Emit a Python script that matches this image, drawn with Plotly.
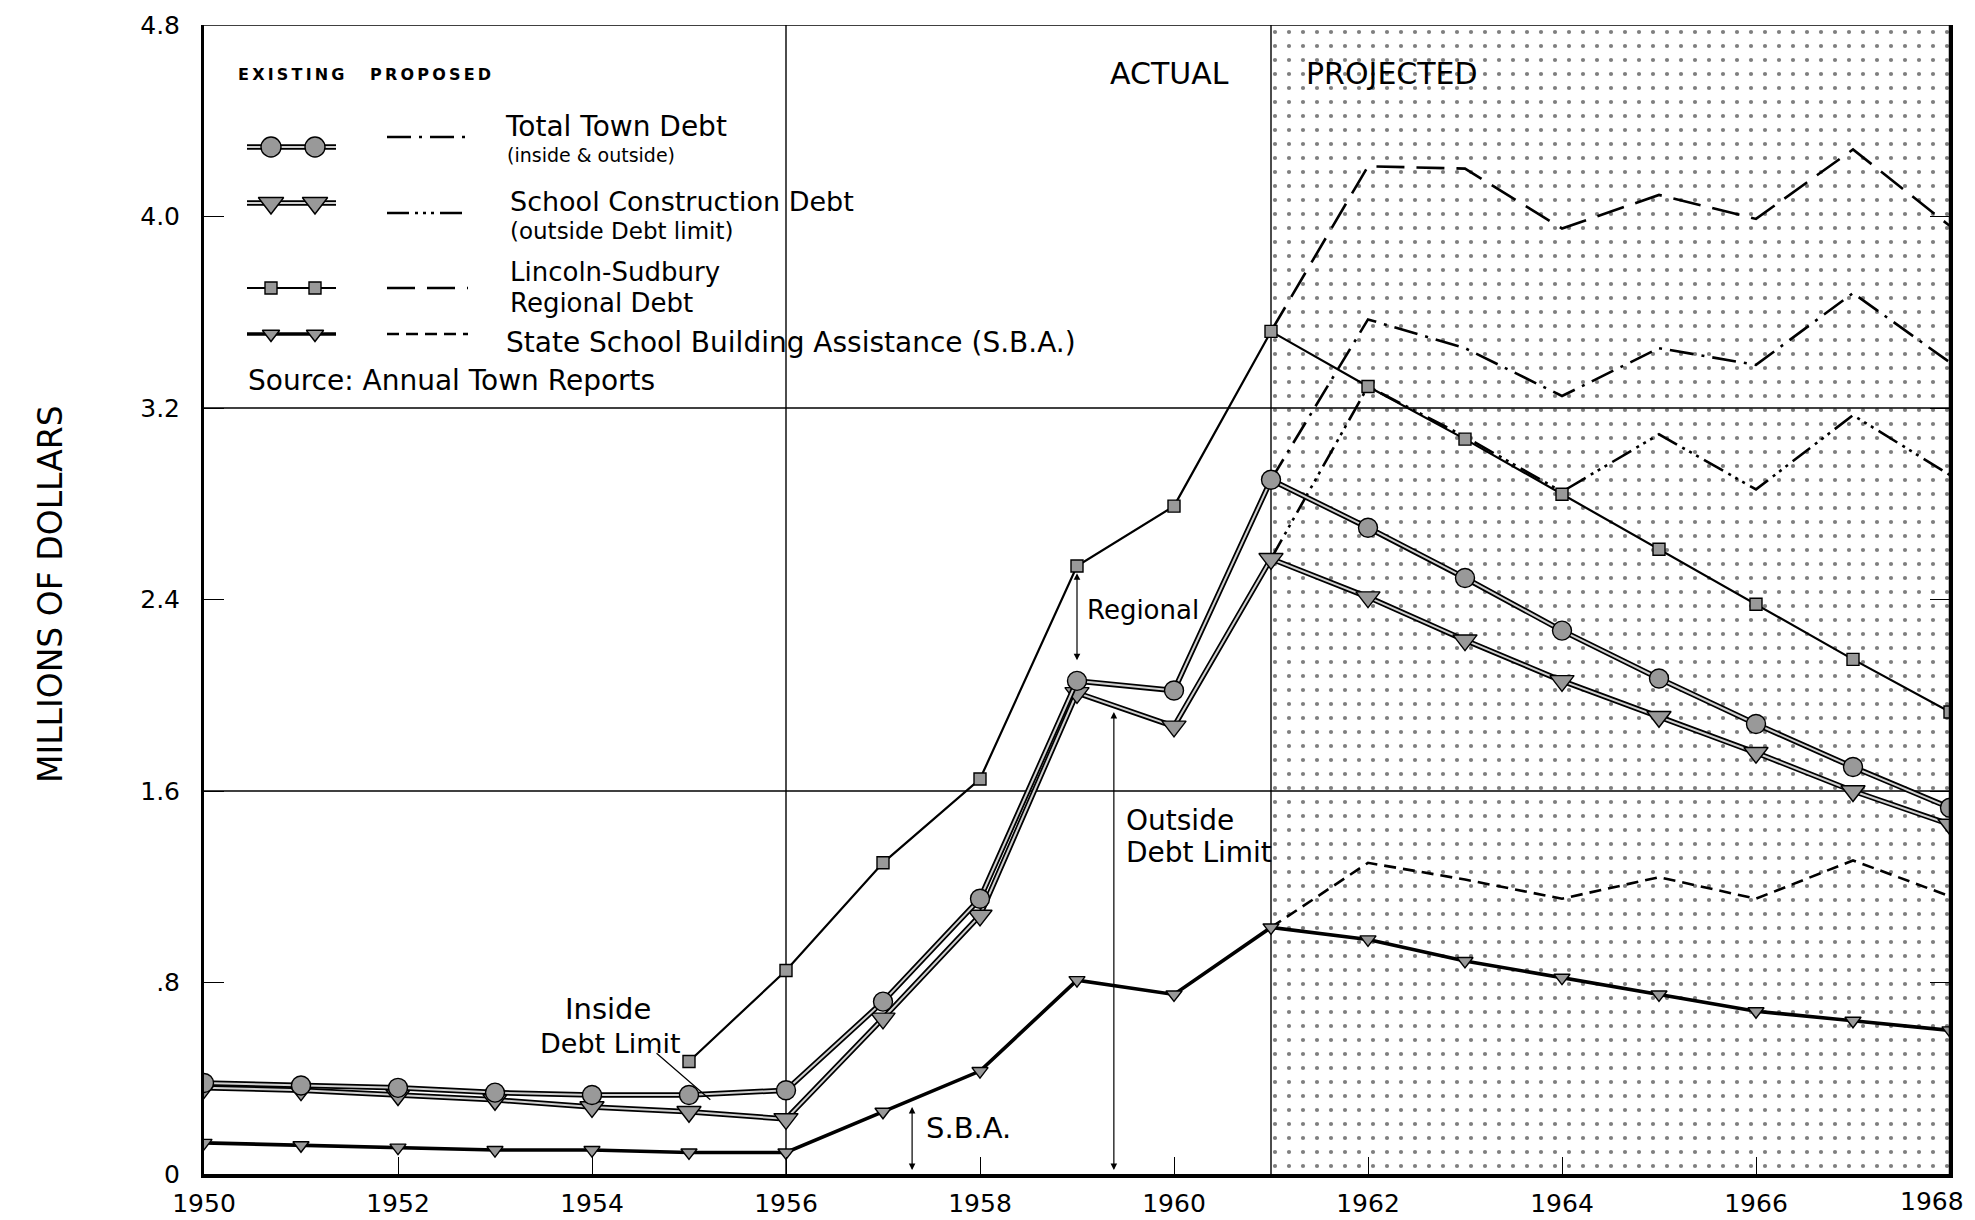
import plotly.graph_objects as go

# ---------------- data (millions of dollars) ----------------
years = list(range(1950, 1969))
regional_years = list(range(1955, 1969))
projected_years = list(range(1961, 1969))

# existing debt, actual to 1961 then scheduled retirement
total_town_debt = [0.38, 0.37, 0.36, 0.34, 0.33, 0.33, 0.35, 0.72, 1.15, 2.06, 2.02,
                   2.90, 2.70, 2.49, 2.27, 2.07, 1.88, 1.70, 1.53]
school_construction_debt = [0.36, 0.35, 0.33, 0.31, 0.28, 0.26, 0.23, 0.65, 1.08, 2.01, 1.87,
                            2.57, 2.41, 2.23, 2.06, 1.91, 1.76, 1.60, 1.46]
regional_debt_line = [0.47, 0.85, 1.30, 1.65, 2.54, 2.79,
                      3.52, 3.29, 3.07, 2.84, 2.61, 2.38, 2.15, 1.93]
sba_existing = [0.13, 0.12, 0.11, 0.10, 0.10, 0.09, 0.09, 0.26, 0.43, 0.81, 0.75,
                1.03, 0.98, 0.89, 0.82, 0.75, 0.68, 0.64, 0.60]

# proposed debt, 1961-1968
total_proposed = [2.90, 3.57, 3.45, 3.25, 3.45, 3.38, 3.68, 3.39]
school_proposed = [2.57, 3.29, 3.08, 2.85, 3.09, 2.86, 3.17, 2.92]
regional_proposed = [3.52, 4.21, 4.20, 3.95, 4.09, 3.99, 4.28, 3.96]
sba_proposed = [1.03, 1.30, 1.23, 1.15, 1.24, 1.15, 1.31, 1.16]

y_ticks = [0, 0.8, 1.6, 2.4, 3.2, 4.0, 4.8]
y_tick_labels = ["0", ".8", "1.6", "2.4", "3.2", "4.0", "4.8"]
x_ticks = list(range(1950, 1969, 2))
x_tick_labels = [str(v) for v in x_ticks]

FONT = "DejaVu Sans"
INK = "black"
STIPPLE = "#999999"

DASH_TOTAL = "24px,8px,3px,8px"
DASH_SCHOOL = "22px,6px,3px,5px,3px,5px,3px,6px"
DASH_REGIONAL = "28px,12px"
DASH_SBA = "12px,7px"

# plot-area pixel box, used to place the hand-lettered notes
W, H = 1975, 1220
PX_LEFT, PX_RIGHT, PX_TOP, PX_BOTTOM = 204, 1950, 25, 1174

fig = go.Figure()

# dotted field over the projected years
fig.add_trace(go.Bar(
    x=[1964.5], y=[4.8], base=[0], width=[7],
    marker=dict(color="rgba(255,255,255,0)", line=dict(width=0),
                pattern=dict(shape=".", size=14, solidity=0.07,
                             fgcolor=INK, bgcolor="rgba(255,255,255,0)")),
    hoverinfo="skip", showlegend=False))


def double_line(x, y, xa="x", ya="y", width=5.5):
    """Outlined 'existing' line: dark stroke with a light core."""
    fig.add_trace(go.Scatter(x=x, y=y, mode="lines", xaxis=xa, yaxis=ya,
                             line=dict(color=INK, width=width),
                             hoverinfo="skip", showlegend=False))
    fig.add_trace(go.Scatter(x=x, y=y, mode="lines", xaxis=xa, yaxis=ya,
                             line=dict(color="#d0d0d0", width=width - 3.5),
                             hoverinfo="skip", showlegend=False))


def markers(x, y, symbol, size, xa="x", ya="y"):
    fig.add_trace(go.Scatter(x=x, y=y, mode="markers", xaxis=xa, yaxis=ya,
                             marker=dict(symbol=symbol, size=size, color=STIPPLE,
                                         line=dict(color=INK, width=1.4)),
                             hoverinfo="skip", showlegend=False))


def dashed(x, y, dash, width=2.6, xa="x", ya="y"):
    fig.add_trace(go.Scatter(x=x, y=y, mode="lines", xaxis=xa, yaxis=ya,
                             line=dict(color=INK, width=width, dash=dash),
                             hoverinfo="skip", showlegend=False))


# proposed series
dashed(projected_years, regional_proposed, DASH_REGIONAL)
dashed(projected_years, total_proposed, DASH_TOTAL)
dashed(projected_years, school_proposed, DASH_SCHOOL)
dashed(projected_years, sba_proposed, DASH_SBA)

# existing series
fig.add_trace(go.Scatter(x=regional_years, y=regional_debt_line, mode="lines",
                         line=dict(color=INK, width=2.2), hoverinfo="skip", showlegend=False))
markers(regional_years, regional_debt_line, "square", 12)

fig.add_trace(go.Scatter(x=years, y=sba_existing, mode="lines",
                         line=dict(color=INK, width=3.6), hoverinfo="skip", showlegend=False))
markers(years, sba_existing, "triangle-down", 14)

double_line(years, school_construction_debt)
markers(years, school_construction_debt, "triangle-down", 21)

double_line(years, total_town_debt)
markers(years, total_town_debt, "circle", 19)

# ---------------- legend block (pixel-space overlay) ----------------
legend_rows = [
    # (line y, proposed y, existing symbol, size, style, proposed dash)
    (147, 137, "circle", 20, "double", DASH_TOTAL),
    (203, 213, "triangle-down", 22, "double", DASH_SCHOOL),
    (288, 288, "square", 12, "thin", DASH_REGIONAL),
    (334, 334, "triangle-down", 15, "thick", DASH_SBA),
]
for ly, py, sym, sz, style, dash in legend_rows:
    xs = [247, 336]
    if style == "double":
        double_line(xs, [ly, ly], xa="x2", ya="y2")
    else:
        fig.add_trace(go.Scatter(x=xs, y=[ly, ly], mode="lines", xaxis="x2", yaxis="y2",
                                 line=dict(color=INK, width=2.2 if style == "thin" else 3.6),
                                 hoverinfo="skip", showlegend=False))
    markers([271, 315], [ly, ly], sym, sz, xa="x2", ya="y2")
    dashed([387, 468], [py, py], dash, xa="x2", ya="y2")

annotations = []


def label(x, y, text, size=28, xanchor="left"):
    annotations.append(dict(x=x, y=y, xref="x2", yref="y2", text=text, showarrow=False,
                            xanchor=xanchor, yanchor="middle",
                            font=dict(family=FONT, size=size, color=INK)))


THIN = "\u2009"
label(291, 74, "<b>" + THIN.join("EXISTING") + "</b>", size=16, xanchor="center")
label(430, 74, "<b>" + THIN.join("PROPOSED") + "</b>", size=16, xanchor="center")
label(503, 126, "Total Town Debt", size=28)
label(505, 155, "(inside & outside)", size=19)
label(508, 201, "School Construction Debt", size=27)
label(508, 231, "(outside Debt limit)", size=23)
label(508, 272, "Lincoln-Sudbury", size=26)
label(508, 303, "Regional Debt", size=26)
label(504, 342, "State School Building Assistance (S.B.A.)", size=28)
label(246, 380, "Source: Annual Town Reports", size=28)

label(1169, 73, "ACTUAL", size=30, xanchor="center")
label(1392, 73, "PROJECTED", size=30, xanchor="center")

label(1085, 610, "Regional", size=26)
label(1124, 820, "Outside", size=28)
label(1124, 852, "Debt Limit", size=28)
label(608, 1009, "Inside", size=29, xanchor="center")
label(610, 1043, "Debt Limit", size=27, xanchor="center")
label(924, 1128, "S.B.A.", size=29)

# y-axis title, placed in the left margin
annotations.append(dict(x=(50 - PX_LEFT) / (PX_RIGHT - PX_LEFT), y=(PX_BOTTOM - 594) / (PX_BOTTOM - PX_TOP),
                        xref="paper", yref="paper", text="MILLIONS OF DOLLARS",
                        textangle=-90, showarrow=False, xanchor="center", yanchor="middle",
                        font=dict(family=FONT, size=33, color=INK)))

# last year label pulled in so it stays on the page
annotations.append(dict(x=(W - 9 - PX_LEFT) / (PX_RIGHT - PX_LEFT), y=0, xref="paper", yref="paper",
                        text=x_tick_labels[-1], showarrow=False, xanchor="right", yanchor="top",
                        yshift=-11, font=dict(family=FONT, size=25, color=INK)))


def double_arrow(x, y0, y1):
    annotations.append(dict(x=x, y=y1, ax=x, ay=y0, xref="x", yref="y", axref="x", ayref="y",
                            text="", showarrow=True, arrowhead=2, startarrowhead=2,
                            arrowside="end+start", arrowsize=1.1, arrowwidth=1.2,
                            arrowcolor=INK))


double_arrow(1959.0, 2.14, 2.51)
double_arrow(1959.38, 0.01, 1.93)
double_arrow(1957.3, 0.01, 0.28)

# leader from "Inside Debt Limit" to the gap between the two lines
annotations.append(dict(x=1955.22, y=0.31, ax=1954.65, ay=0.51, xref="x", yref="y",
                        axref="x", ayref="y", text="", showarrow=True, arrowhead=0,
                        arrowwidth=1.2, arrowcolor=INK))

# ---------------- reference lines and frame ----------------
shapes = []
for yv in (1.6, 3.2):
    shapes.append(dict(type="line", xref="x", yref="y", x0=1950, x1=1968, y0=yv, y1=yv,
                       line=dict(color=INK, width=1.4), layer="below"))
for xv in (1956, 1961):
    shapes.append(dict(type="line", xref="x", yref="y", x0=xv, x1=xv, y0=0, y1=4.8,
                       line=dict(color=INK, width=1.4), layer="below"))
shapes.append(dict(type="line", xref="x", yref="y", x0=1950, x1=1968, y0=4.8, y1=4.8,
                   line=dict(color=INK, width=1.6), layer="above"))
shapes.append(dict(type="line", xref="x", yref="y", x0=1968, x1=1968, y0=0, y1=4.8,
                   line=dict(color=INK, width=2.5), layer="above"))

axis_tick_text = x_tick_labels[:-1] + [""]

fig.update_layout(
    width=W, height=H,
    margin=dict(l=PX_LEFT, r=W - PX_RIGHT, t=PX_TOP, b=H - PX_BOTTOM, autoexpand=False),
    paper_bgcolor="white", plot_bgcolor="white",
    showlegend=False,
    font=dict(family=FONT, color=INK),
    xaxis=dict(range=[1950, 1968], tickmode="array", tickvals=x_ticks, ticktext=axis_tick_text,
               ticks="inside", ticklen=17, tickwidth=1.4, tickcolor=INK,
               showline=True, linewidth=4, linecolor=INK, showgrid=False, zeroline=False,
               tickfont=dict(family=FONT, size=25, color=INK), ticklabelstandoff=4),
    yaxis=dict(range=[0, 4.8], tickmode="array", tickvals=y_ticks, ticktext=y_tick_labels,
               ticks="inside", ticklen=20, tickwidth=1.4, tickcolor=INK,
               showline=True, linewidth=3, linecolor=INK, mirror="ticks",
               showgrid=False, zeroline=False,
               tickfont=dict(family=FONT, size=25, color=INK), ticklabelstandoff=16,
               ticklabeloverflow="allow"),
    xaxis2=dict(range=[PX_LEFT, PX_RIGHT], overlaying="x", anchor="y2", visible=False),
    yaxis2=dict(range=[PX_BOTTOM, PX_TOP], overlaying="y", anchor="x2", visible=False),
    annotations=annotations,
    shapes=shapes,
)

fig.write_html("out.html")
